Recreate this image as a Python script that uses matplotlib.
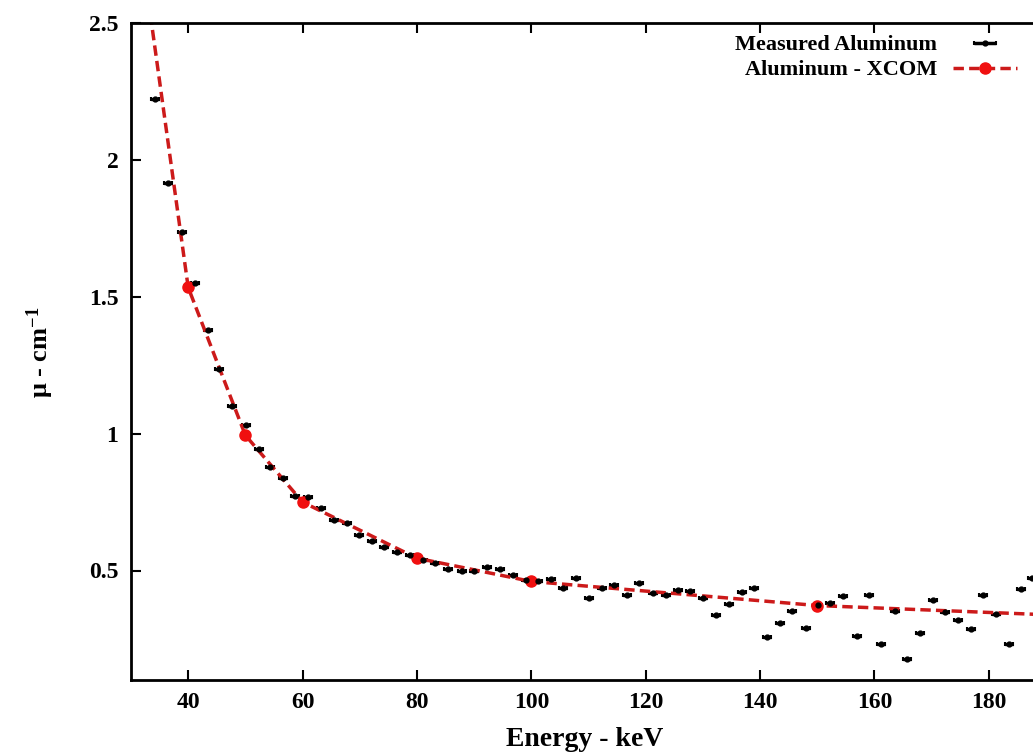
import numpy as np
import matplotlib
matplotlib.use('Agg')
from matplotlib import pyplot as plt
from matplotlib.ticker import FormatStrFormatter

# measured attenuation
energy = [34.2, 36.5, 38.9, 41.2, 43.4, 45.4, 47.6, 50.1, 52.3, 54.3,
          56.6, 58.7, 61.0, 63.3, 65.5, 67.7, 69.9, 72.2, 74.3, 76.5,
          78.8, 81.0, 83.1, 85.5, 87.8, 90.0, 92.3, 94.5, 96.8, 99.0,
          101.2, 103.5, 105.6, 107.8, 110.1, 112.3, 114.4, 116.8, 118.9, 121.2,
          123.5, 125.7, 127.8, 130.0, 132.3, 134.5, 136.8, 138.9, 141.2, 143.5,
          145.6, 148.0, 150.1, 152.3, 154.5, 156.9, 159.1, 161.2, 163.6, 165.7,
          167.9, 170.3, 172.3, 174.6, 176.8, 179.0, 181.2, 183.5, 185.7, 187.5]
mu = [2.223, 1.917, 1.737, 1.552, 1.377, 1.237, 1.100, 1.033, 0.944, 0.877,
      0.838, 0.771, 0.769, 0.729, 0.686, 0.674, 0.629, 0.607, 0.585, 0.567,
      0.556, 0.540, 0.526, 0.506, 0.497, 0.500, 0.513, 0.504, 0.485, 0.465,
      0.462, 0.470, 0.437, 0.473, 0.400, 0.437, 0.446, 0.412, 0.454, 0.419,
      0.410, 0.427, 0.425, 0.398, 0.339, 0.376, 0.421, 0.437, 0.258, 0.309,
      0.351, 0.291, 0.375, 0.382, 0.406, 0.260, 0.412, 0.232, 0.351, 0.175,
      0.270, 0.392, 0.348, 0.318, 0.288, 0.409, 0.340, 0.233, 0.431, 0.473]
energy_err = 0.7

# XCOM reference values
xcom_energy = [30, 40, 50, 60, 80, 100, 150, 200]
xcom_mu = [3.04, 1.534, 0.994, 0.750, 0.545, 0.460, 0.372, 0.330]

xticks = [40, 60, 80, 100, 120, 140, 160, 180]
yticks = [0.5, 1, 1.5, 2, 2.5]

plt.rcParams['font.family'] = ['Liberation Serif', 'DejaVu Serif']
plt.rcParams['font.weight'] = 'bold'
plt.rcParams['mathtext.fontset'] = 'custom'
plt.rcParams['mathtext.rm'] = 'Liberation Serif:bold'
plt.rcParams['mathtext.it'] = 'Liberation Serif:italic:bold'

fig = plt.figure(figsize=(10.33, 7.54), dpi=100)
# plot is cut off on the right, like the original
ax = fig.add_axes([131/1033, 74/754, 915/1033, 657/754])

meas = ax.errorbar(energy, mu, xerr=energy_err, fmt='o', color='black',
                   ms=3.5, elinewidth=2.5, capsize=1.5, capthick=1.5,
                   label='Measured Aluminum')
xc, = ax.plot(xcom_energy, xcom_mu, color='#cc1a1a', ls=(0, (3, 1.5)), lw=2.5,
              marker='o', ms=8, mfc='#f01010', mec='#f01010',
              label='Aluminum - XCOM')

ax.set_xlim(30, 190)
ax.set_ylim(0.1, 2.5)
ax.set_xticks(xticks)
ax.set_yticks(yticks)
ax.yaxis.set_major_formatter(FormatStrFormatter('%g'))
ax.tick_params(direction='in', length=7, width=1.5, labelsize=17,
               top=True, right=False)
ax.tick_params(axis='x', pad=9)
ax.tick_params(axis='y', pad=9)
for s in ['left', 'bottom', 'top']:
    ax.spines[s].set_linewidth(2)
ax.spines['right'].set_visible(False)

fig.text(585/1033, 1 - 740/754, 'Energy - keV', ha='center', va='center', fontsize=20)
fig.text(40/1033, 1 - 352/754, '\u03bc - cm$^{-1}$', ha='center', va='center',
         rotation=90, fontsize=19)

# two one-entry keys so the texts line up on the right (gnuplot style)
kw = dict(loc='center right', markerfirst=False, frameon=False,
          handlelength=2.9, handletextpad=0.7, borderpad=0, borderaxespad=0,
          fontsize=16, bbox_transform=fig.transFigure)
leg1 = ax.legend([meas], ['Measured Aluminum'],
                 bbox_to_anchor=(1017/1033, 1 - 45/754), **kw)
ax.add_artist(leg1)
ax.legend([xc], ['Aluminum - XCOM'], bbox_to_anchor=(1017/1033, 1 - 70/754), **kw)

fig.savefig('out.png', dpi=100)
